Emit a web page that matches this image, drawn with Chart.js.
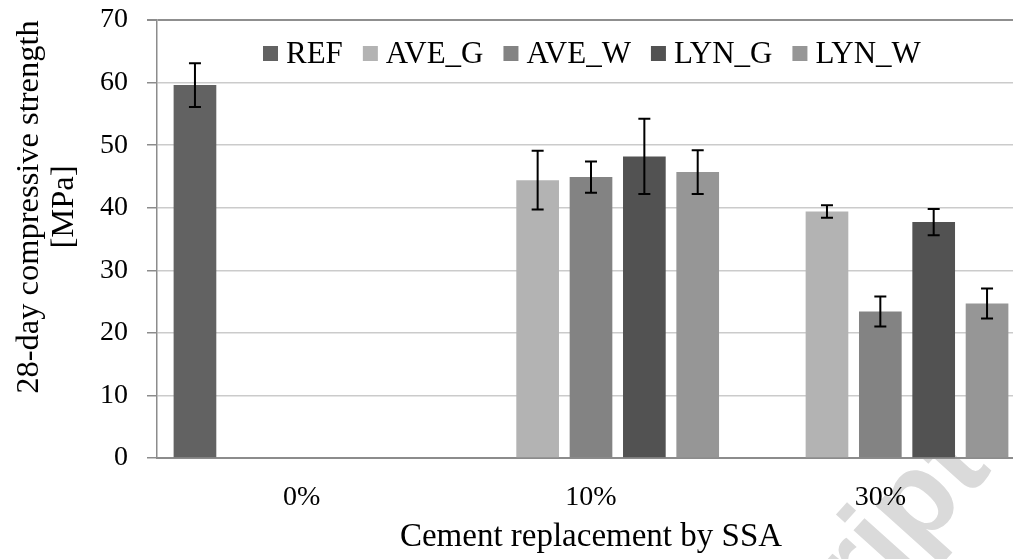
<!DOCTYPE html>
<html>
<head>
<meta charset="utf-8">
<script src="https://cdn.jsdelivr.net/npm/chart.js@4.4.1/dist/chart.umd.min.js"></script>
<style>
    html, body { margin: 0; padding: 0; background: #fff; overflow: hidden; }
    #wrap { width: 1040px; height: 559px; }
</style>
</head>
<body>
<div id="wrap"><canvas id="chart" width="1040" height="559"></canvas></div>
<script>
// Data
const categories = ['0%', '10%', '30%'];
const seriesNames = ['REF', 'AVE_G', 'AVE_W', 'LYN_G', 'LYN_W'];
const seriesColors = ['#626262', '#b3b3b3', '#838383', '#525252', '#969696'];

const refValues  = [59.6, null, null];
const aveGValues = [null, 44.4, 39.4];
const aveWValues = [null, 44.9, 23.4];
const lynGValues = [null, 48.2, 37.7];
const lynWValues = [null, 45.7, 24.7];

// +/- error (MPa)
const refErrors  = [3.5, null, null];
const aveGErrors = [null, 4.7, 1.0];
const aveWErrors = [null, 2.5, 2.4];
const lynGErrors = [null, 6.0, 2.1];
const lynWErrors = [null, 3.5, 2.4];

const yMin = 0, yMax = 70, yStep = 10;
const yTitle = ['28-day compressive strength', '[MPa]'];
const xTitle = 'Cement replacement by SSA';

const seriesValues = [refValues, aveGValues, aveWValues, lynGValues, lynWValues];
const seriesErrors = [refErrors, aveGErrors, aveWErrors, lynGErrors, lynWErrors];

const serif = '"Liberation Serif", "Times New Roman", serif';

const extras = {
    id: 'extras',
    beforeDraw(chart) {
        // faint watermark behind the plot
        const ctx = chart.ctx;
        ctx.save();
        ctx.translate(993, 470);
        ctx.rotate(-48 * Math.PI / 180);
        ctx.font = 'bold 120px "Liberation Sans", Arial, sans-serif';
        ctx.fillStyle = '#dadada';
        ctx.textAlign = 'right';
        ctx.textBaseline = 'alphabetic';
        ctx.fillText('Accepted Manuscript', 0, 0);
        ctx.restore();
    },
    afterDatasetsDraw(chart) {
        // error bars
        const ctx = chart.ctx;
        const yScale = chart.scales.y;
        ctx.save();
        ctx.strokeStyle = '#000';
        ctx.lineWidth = 2;
        chart.data.datasets.forEach((ds, i) => {
            const meta = chart.getDatasetMeta(i);
            meta.data.forEach((bar, j) => {
                const v = ds.data[j], e = ds.errors[j];
                if (v == null || e == null) return;
                const top = yScale.getPixelForValue(v + e);
                const bottom = yScale.getPixelForValue(v - e);
                ctx.beginPath();
                ctx.moveTo(bar.x, top);
                ctx.lineTo(bar.x, bottom);
                ctx.moveTo(bar.x - 6, top);
                ctx.lineTo(bar.x + 6, top);
                ctx.moveTo(bar.x - 6, bottom);
                ctx.lineTo(bar.x + 6, bottom);
                ctx.stroke();
            });
        });
        ctx.restore();
    },
    afterDraw(chart) {
        const ctx = chart.ctx;
        ctx.save();
        // legend inside the plot area
        ctx.font = '31px ' + serif;
        ctx.textBaseline = 'middle';
        ctx.textAlign = 'left';
        let x = 263;
        const y = 53.5;
        chart.data.datasets.forEach(ds => {
            ctx.fillStyle = ds.backgroundColor;
            ctx.fillRect(x, y - 7.5, 15, 15);
            ctx.fillStyle = '#000';
            ctx.fillText(ds.label, x + 23, y + 1);
            x += 23 + ctx.measureText(ds.label).width + 20;
        });
        // y axis title, two centred lines
        ctx.translate(0, 207);
        ctx.rotate(-Math.PI / 2);
        ctx.font = '32.5px ' + serif;
        ctx.textAlign = 'center';
        ctx.fillText(yTitle[0], 0, 29);
        ctx.fillText(yTitle[1], 0, 64);
        ctx.restore();
    }
};

new Chart(document.getElementById('chart'), {
    type: 'bar',
    data: {
        labels: categories,
        datasets: seriesNames.map((name, i) => ({
            label: name,
            data: seriesValues[i],
            errors: seriesErrors[i],
            backgroundColor: seriesColors[i],
            borderWidth: 0,
            categoryPercentage: 0.922,
            barPercentage: 0.8
        }))
    },
    options: {
        responsive: false,
        devicePixelRatio: 1,
        animation: false,
        layout: { padding: { top: 20, right: 15, left: 0, bottom: 0 } },
        plugins: {
            legend: { display: false },
            tooltip: { enabled: false }
        },
        scales: {
            x: {
                afterFit: s => { s.height = 101; s.paddingLeft = 0; s.paddingRight = 0; },
                grid: { display: false, drawTicks: false },
                border: { display: true, color: '#8c8c8c', width: 2 },
                ticks: { color: '#000', padding: 23, font: { family: serif, size: 28 } },
                title: {
                    display: true,
                    text: xTitle,
                    color: '#000',
                    font: { family: serif, size: 33 },
                    padding: { top: 0, bottom: 2 }
                }
            },
            y: {
                min: yMin,
                max: yMax,
                afterFit: s => { s.width = 157; s.paddingTop = 0; s.paddingBottom = 0; },
                grid: {
                    color: c => (c.tick && c.tick.value === yMax) ? '#8f8f8f' : '#cbcbcb',
                    lineWidth: c => (c.tick && c.tick.value === yMax) ? 2 : 1.5,
                    tickColor: '#8c8c8c',
                    tickLength: 10
                },
                border: { display: true, color: '#8c8c8c', width: 1.5 },
                ticks: {
                    stepSize: yStep,
                    color: '#000',
                    padding: 19,
                    font: { family: serif, size: 28 }
                }
            }
        }
    },
    plugins: [extras]
});
</script>
</body>
</html>
